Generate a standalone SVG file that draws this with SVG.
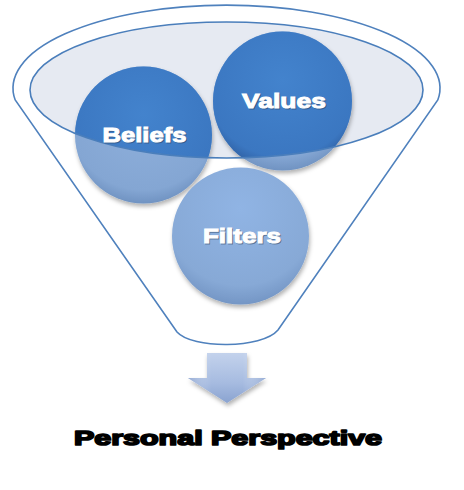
<svg xmlns="http://www.w3.org/2000/svg" width="464" height="490" viewBox="0 0 464 490">
  <style>
    .outline { fill: #ffffff; stroke: #4f81bd; stroke-width: 1.6; }
    .rim { fill: none; stroke: #4a7ebb; stroke-width: 1.6; }
    .label { font-family: "Liberation Sans", Arial, sans-serif; font-weight: bold; font-size: 21px; fill: #ffffff; stroke: #ffffff; stroke-width: 1; text-anchor: middle; }
    .labelshadow { font-family: "Liberation Sans", Arial, sans-serif; font-weight: bold; font-size: 21px; fill: #2a3f5c; stroke: #2a3f5c; stroke-width: 1; text-anchor: middle; opacity: 0.5; }
    .title { font-family: "Liberation Sans", Arial, sans-serif; font-weight: bold; font-size: 21px; fill: #000000; stroke: #000000; stroke-width: 1.7; stroke-linejoin: round; text-anchor: middle; }
  </style>
  <defs>
    <radialGradient id="dark" cx="0.5" cy="0.35" r="0.65">
      <stop offset="0" stop-color="#4383cd"/>
      <stop offset="0.85" stop-color="#3b77c1"/>
      <stop offset="1" stop-color="#2f60a3"/>
    </radialGradient>
    <radialGradient id="light" cx="0.5" cy="0.35" r="0.65">
      <stop offset="0" stop-color="#8fb0dc"/>
      <stop offset="0.85" stop-color="#84a6d3"/>
      <stop offset="1" stop-color="#7093c2"/>
    </radialGradient>
    <radialGradient id="filt" cx="0.5" cy="0.3" r="0.7">
      <stop offset="0" stop-color="#90b4e4"/>
      <stop offset="0.8" stop-color="#87a9d6"/>
      <stop offset="1" stop-color="#7496c5"/>
    </radialGradient>
    <linearGradient id="arrowg" x1="0" y1="0" x2="0" y2="1">
      <stop offset="0" stop-color="#c3d2ec"/>
      <stop offset="0.6" stop-color="#a6bbe0"/>
      <stop offset="1" stop-color="#8aa3d0"/>
    </linearGradient>
    <linearGradient id="arrowside" x1="0" y1="0" x2="1" y2="0">
      <stop offset="0" stop-color="#7f98c6" stop-opacity="0.5"/>
      <stop offset="0.3" stop-color="#ffffff" stop-opacity="0"/>
      <stop offset="0.7" stop-color="#ffffff" stop-opacity="0"/>
      <stop offset="1" stop-color="#7f98c6" stop-opacity="0.5"/>
    </linearGradient>
    <filter id="shadow" x="-20%" y="-20%" width="140%" height="150%">
      <feDropShadow dx="1" dy="3" stdDeviation="2" flood-color="#000000" flood-opacity="0.3"/>
    </filter>
    <clipPath id="innerclip">
      <ellipse cx="226.5" cy="90" rx="196.5" ry="68"/>
    </clipPath>
  </defs>

  <g id="funnel">
    <path class="outline" d="M 15.2,100 A 213.5 83 0 1 1 437.8,100 L 278,330 C 262,349 192,349 177,332 Z"/>
    <ellipse cx="226.5" cy="90" rx="196.5" ry="68" fill="#e6eaf2"/>
  </g>

  <g id="beliefs">
    <circle cx="143.5" cy="135" r="68.5" fill="url(#light)" filter="url(#shadow)"/>
    <circle cx="143.5" cy="135" r="68.5" fill="url(#dark)" clip-path="url(#innerclip)"/>
  </g>
  <g id="values">
    <circle cx="282.5" cy="101" r="69.5" fill="url(#light)" filter="url(#shadow)"/>
    <circle cx="282.5" cy="101" r="69.5" fill="url(#dark)" clip-path="url(#innerclip)"/>
  </g>
  <g id="filters">
    <circle cx="240.5" cy="236" r="68.5" fill="url(#filt)" filter="url(#shadow)"/>
  </g>

  <ellipse class="rim" cx="226.5" cy="90" rx="196.5" ry="68"/>

  <g id="labels">
    <text class="labelshadow" x="145.5" y="143" textLength="84" lengthAdjust="spacingAndGlyphs">Beliefs</text>
    <text class="label" x="144.5" y="142" textLength="84" lengthAdjust="spacingAndGlyphs">Beliefs</text>
    <text class="labelshadow" x="285" y="109" textLength="84" lengthAdjust="spacingAndGlyphs">Values</text>
    <text class="label" x="284" y="108" textLength="84" lengthAdjust="spacingAndGlyphs">Values</text>
    <text class="labelshadow" x="243" y="244" textLength="78" lengthAdjust="spacingAndGlyphs">Filters</text>
    <text class="label" x="242" y="243" textLength="78" lengthAdjust="spacingAndGlyphs">Filters</text>
  </g>

  <g id="connectors">
    <polygon points="207,353 247,353 247,378 266,378 227,403 188,378 207,378" fill="url(#arrowg)" filter="url(#shadow)"/>
    <polygon points="207,353 247,353 247,378 266,378 227,403 188,378 207,378" fill="url(#arrowside)"/>
  </g>

  <g id="title">
    <text class="title" x="228" y="445" textLength="308" lengthAdjust="spacingAndGlyphs">Personal Perspective</text>
  </g>
</svg>
